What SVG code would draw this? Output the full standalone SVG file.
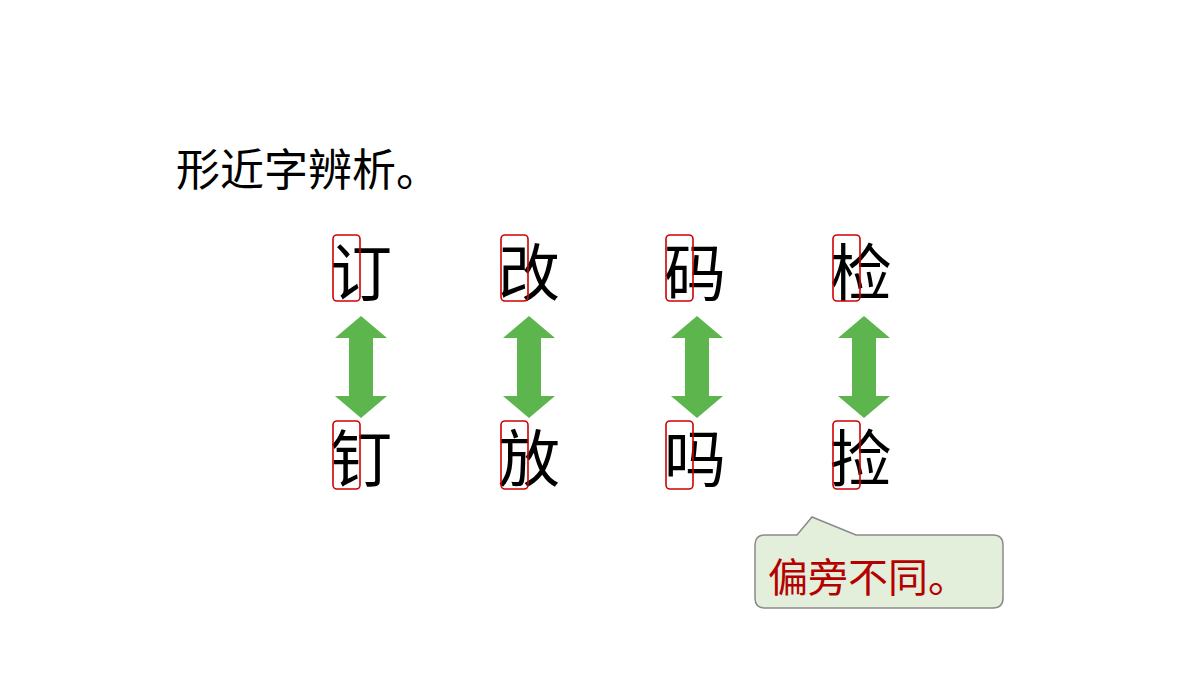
<svg xmlns="http://www.w3.org/2000/svg" width="1200" height="675" viewBox="0 0 1200 675">
<style>
.t{font-family:"Noto Sans CJK SC","Noto Sans CJK TC",sans-serif;fill:#000}
.c{font-size:62px}
.b{fill:none;stroke:#d00000;stroke-width:1.6}
.a{fill:#5cb54d}
</style>
<defs>
<path id="arr" d="M0,-51 L26,-29 L12,-29 L12,29 L26,29 L0,51 L-26,29 L-12,29 L-12,-29 L-26,-29 Z"/>
</defs>
<rect width="1200" height="675" fill="#fff"/>
<text class="t" x="176" y="186" font-size="44">形近字辨析。</text>
<g id="nodes">
<g id="n1"><text class="t c" x="330" y="296">订</text><rect class="b" x="333" y="235" width="27" height="66" rx="4"/></g>
<g id="n2"><text class="t c" x="330" y="482">钉</text><rect class="b" x="333" y="421" width="27" height="68" rx="4"/></g>
<g id="n3"><text class="t c" x="498" y="296">改</text><rect class="b" x="501" y="235" width="27" height="66" rx="4"/></g>
<g id="n4"><text class="t c" x="498" y="482">放</text><rect class="b" x="501" y="421" width="27" height="68" rx="4"/></g>
<g id="n5"><text class="t c" x="664" y="296">码</text><rect class="b" x="666" y="235" width="27" height="66" rx="4"/></g>
<g id="n6"><text class="t c" x="664" y="482">吗</text><rect class="b" x="666" y="421" width="27" height="68" rx="4"/></g>
<g id="n7"><text class="t c" x="830" y="296">检</text><rect class="b" x="833" y="235" width="27" height="66" rx="4"/></g>
<g id="n8"><text class="t c" x="830" y="482">捡</text><rect class="b" x="833" y="421" width="27" height="68" rx="4"/></g>
</g>
<g id="connectors">
<use href="#arr" class="a" x="361" y="367"/>
<use href="#arr" class="a" x="529" y="367"/>
<use href="#arr" class="a" x="697" y="367"/>
<use href="#arr" class="a" x="864" y="367"/>
</g>
<g id="callout">
<path d="M765,535 L797,535 L812,517 L856,535 L993,535 Q1003,535 1003,545 L1003,598 Q1003,608 993,608 L765,608 Q755,608 755,598 L755,545 Q755,535 765,535 Z" fill="#e3eedb" stroke="#8a8a8a" stroke-width="1.5"/>
<text x="768" y="592" font-size="40" font-family="Noto Sans CJK SC,sans-serif" fill="#b50000">偏旁不同。</text>
</g>
</svg>
